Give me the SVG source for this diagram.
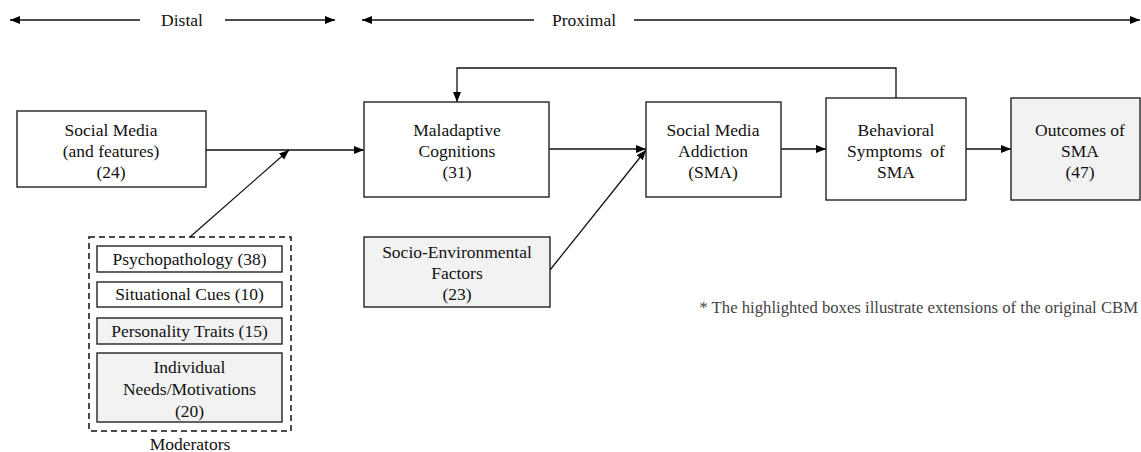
<svg xmlns="http://www.w3.org/2000/svg" width="1141" height="452" viewBox="0 0 1141 452">
<style>
text{font-family:"Liberation Serif","Times New Roman",serif;font-size:17.5px;fill:#111;text-anchor:middle}
.box{fill:#fff;stroke:#222;stroke-width:1.4}
.hl{fill:#f2f2f2;stroke:#222;stroke-width:1.4}
.ln{fill:none;stroke:#111;stroke-width:1.3}
.note{fill:#444;font-size:16.7px;text-anchor:end}
</style>
<defs>
<marker id="ah" viewBox="0 0 10 10" refX="10" refY="5" markerWidth="10" markerHeight="10" markerUnits="userSpaceOnUse" orient="auto-start-reverse">
<path d="M0,1 L10,5 L0,9 Z" fill="#000"/>
</marker>
</defs>
<g id="scale">
<line class="ln" x1="10" y1="20" x2="140" y2="20" marker-start="url(#ah)"/>
<text x="182" y="26">Distal</text>
<line class="ln" x1="225" y1="20" x2="335" y2="20" marker-end="url(#ah)"/>
<line class="ln" x1="362" y1="20" x2="534" y2="20" marker-start="url(#ah)"/>
<text x="584" y="26">Proximal</text>
<line class="ln" x1="634" y1="20" x2="1140" y2="20" marker-end="url(#ah)"/>
</g>
<g id="connectors">
<line class="ln" x1="206" y1="150" x2="364" y2="150" marker-end="url(#ah)"/>
<line class="ln" x1="190" y1="237" x2="289" y2="150" marker-end="url(#ah)"/>
<line class="ln" x1="549" y1="149" x2="646" y2="149" marker-end="url(#ah)"/>
<line class="ln" x1="550" y1="270" x2="646" y2="150" marker-end="url(#ah)"/>
<line class="ln" x1="781" y1="149" x2="826" y2="149" marker-end="url(#ah)"/>
<line class="ln" x1="966" y1="149" x2="1011" y2="149" marker-end="url(#ah)"/>
<polyline class="ln" points="896,98 896,68 457,68 457,102" marker-end="url(#ah)"/>
</g>
<g id="social-media">
<rect class="box" x="17" y="111" width="189" height="76"/>
<text x="111" y="136">Social Media</text>
<text x="111" y="157">(and features)</text>
<text x="111" y="178">(24)</text>
</g>
<g id="maladaptive">
<rect class="box" x="364" y="102" width="185" height="95"/>
<text x="457" y="136">Maladaptive</text>
<text x="457" y="157">Cognitions</text>
<text x="457" y="178">(31)</text>
</g>
<g id="socio-env">
<rect class="hl" x="364" y="237" width="186" height="70"/>
<text x="457" y="258">Socio-Environmental</text>
<text x="457" y="279">Factors</text>
<text x="457" y="300">(23)</text>
</g>
<g id="sma">
<rect class="box" x="646" y="102" width="135" height="95"/>
<text x="713" y="136">Social Media</text>
<text x="713" y="157">Addiction</text>
<text x="713" y="178">(SMA)</text>
</g>
<g id="behavioral">
<rect class="box" x="826" y="98" width="140" height="102"/>
<text x="896" y="136">Behavioral</text>
<text x="896" y="157" word-spacing="4">Symptoms of</text>
<text x="896" y="178">SMA</text>
</g>
<g id="outcomes">
<rect class="hl" x="1011" y="98" width="129" height="102"/>
<text x="1080" y="136">Outcomes of</text>
<text x="1080" y="157">SMA</text>
<text x="1080" y="178">(47)</text>
</g>
<g id="moderators">
<rect x="89" y="237" width="202" height="194" fill="none" stroke="#111" stroke-width="1.5" stroke-dasharray="6,4"/>
<text x="190" y="450">Moderators</text>
<g id="psychopathology">
<rect class="box" x="97" y="246" width="185" height="26"/>
<text x="189.5" y="265">Psychopathology (38)</text>
</g>
<g id="situational">
<rect class="box" x="97" y="282" width="185" height="25"/>
<text x="189.5" y="300">Situational Cues (10)</text>
</g>
<g id="personality">
<rect class="hl" x="97" y="318" width="185" height="26"/>
<text x="189.5" y="337">Personality Traits (15)</text>
</g>
<g id="needs">
<rect class="hl" x="97" y="353" width="185" height="69"/>
<text x="189.5" y="373">Individual</text>
<text x="189.5" y="395">Needs/Motivations</text>
<text x="189.5" y="417">(20)</text>
</g>
</g>
<text class="note" x="1138" y="313">* The highlighted boxes illustrate extensions of the original CBM</text>
</svg>
